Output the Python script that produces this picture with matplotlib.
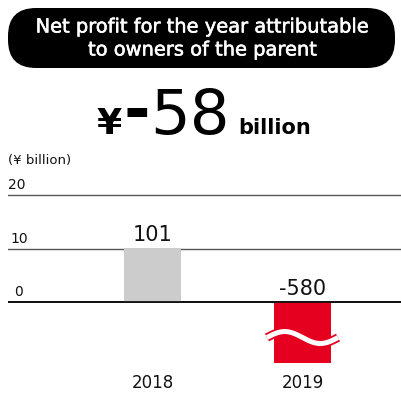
import numpy as np
import matplotlib
matplotlib.use('Agg')
import matplotlib.pyplot as plt
import matplotlib.patheffects as pe
from matplotlib.patches import FancyBboxPatch

plt.rcParams['font.family'] = ['DejaVu Sans']

# values in ¥ billion
years = ['2018', '2019']
profit = [10.1, -58.0]
value_labels = ['101', '-580']
bar_colors = ['#cccccc', '#e60020']
grid_ticks = [0, 10, 20]

W, H = 401, 394
fig = plt.figure(figsize=(W / 100, H / 100), dpi=100)

# chart area: 20 -> y=195px, 0 -> y=302px, bottom clipped at y=363px
px_per_unit = (302 - 195) / 20
y_top_px, y_bot_px = 190, 363
ymax = (302 - y_top_px) / px_per_unit
ymin = -(y_bot_px - 302) / px_per_unit
x_left_px = 8
step_px = 150
xc0 = 152.5
ax = fig.add_axes([x_left_px / W, 1 - y_bot_px / H, 1 - x_left_px / W, (y_bot_px - y_top_px) / H])
ax.set_xlim(-(xc0 - x_left_px) / step_px, 1 + (W - (xc0 + step_px)) / step_px)
ax.set_ylim(ymin, ymax)
ax.axis('off')

for t in grid_ticks:
    ax.axhline(t, color='#111111' if t == 0 else '#555555', lw=1.3 if t == 0 else 1.0, zorder=1)

x = np.arange(len(years))
bars = ax.bar(x, profit, width=57 / step_px, color=bar_colors, zorder=2)
ax.axhline(0, color='#111111', lw=1.3, zorder=3)

for xi, v, lab in zip(x, profit, value_labels):
    ax.text(xi, max(v, 0) + 0.5, lab, ha='center', va='bottom', fontsize=15, color='#111111')

# wave break across the truncated bar
half = 0.237
wx = np.linspace(x[1] - half, x[1] + half, 200)
wy = -6.64 + 1.12 * np.sin(2 * np.pi * (wx - (x[1] - half)) / (2 * half))
ax.plot(wx, wy, color=bar_colors[1], lw=6.2, solid_capstyle='butt', zorder=4)
ax.plot(wx, wy, color='white', lw=3.6, solid_capstyle='butt', zorder=5)

# overlay in pixel coordinates for titles and labels
ov = fig.add_axes([0, 0, 1, 1])
ov.set_xlim(0, W)
ov.set_ylim(H, 0)
ov.axis('off')

box = FancyBboxPatch((8, 8), 387, 60, boxstyle='round,pad=0,rounding_size=28',
                     fc='black', ec='none')
ov.add_patch(box)
medium = [pe.withStroke(linewidth=0.4, foreground='white')]
ov.text(203, 27, 'Net profit for the year attributable', ha='center', va='center',
        color='white', fontsize=14, path_effects=medium)
ov.text(203, 50, 'to owners of the parent', ha='center', va='center',
        color='white', fontsize=14, path_effects=medium)

ov.text(122, 134, '¥', ha='right', va='baseline', fontsize=26, fontweight='bold', color='black')
ov.text(137, 113, '-', ha='center', va='center', fontsize=46, fontweight='bold', color='black')
ov.text(150, 134, '58', ha='left', va='baseline', fontsize=45, color='black')
ov.text(238, 134, 'billion', ha='left', va='baseline', fontsize=15, fontweight='bold', color='black')

ov.text(8, 160, '(¥ billion)', ha='left', va='center', fontsize=9.5, color='#111111')
for t in grid_ticks:
    ypx = 302 - t * px_per_unit
    ov.text(8 if t == 20 else (10 if t else 14), ypx - 10, str(t), ha='left', va='center',
            fontsize=10, color='#111111')

for xi, yr in zip([152.5, 302.5], years):
    ov.text(xi, 383, yr, ha='center', va='center', fontsize=12, color='#111111')

fig.savefig('out.png', dpi=100)
